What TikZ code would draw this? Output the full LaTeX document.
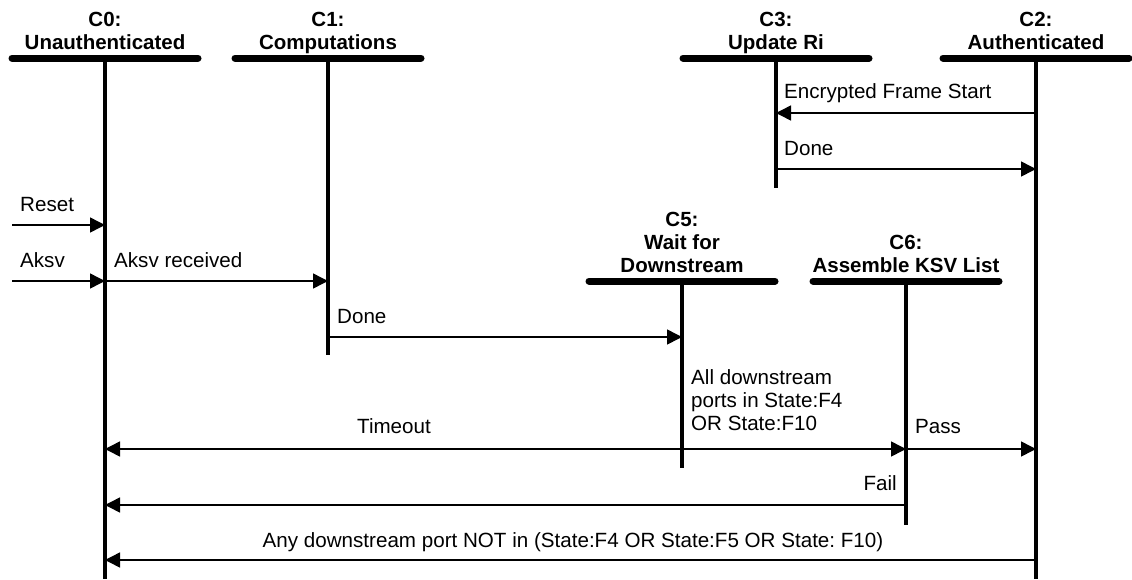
\documentclass[tikz,border=0pt]{standalone}
\usepackage{fontspec}
\setmainfont{Liberation Sans}
\usetikzlibrary{arrows.meta}
\frenchspacing
\begin{document}
\begin{tikzpicture}[x=1pt,y=-1pt,
  bar/.style={line width=7pt, line cap=round},
  life/.style={line width=3.5pt},
  msg/.style={line width=1.5pt, -{Triangle[length=15pt,width=15pt]}},
  dmsg/.style={line width=1.5pt, {Triangle[length=15pt,width=15pt]}-{Triangle[length=15pt,width=15pt]}},
  hdr/.style={anchor=south, inner sep=0pt, text depth=0pt, align=center, font=\fontsize{20.5}{23}\selectfont\bfseries},
  lbl/.style={anchor=base west, inner sep=0pt, font=\fontsize{20.6}{23}\selectfont},
  lblc/.style={anchor=base, inner sep=0pt, font=\fontsize{20.6}{23}\selectfont},
  lble/.style={anchor=base east, inner sep=0pt, font=\fontsize{20.6}{23}\selectfont},
]
\useasboundingbox (0,0) rectangle (1132,579);

% headers
\node[hdr] (h0) at (105,50) {C0:\\Unauthenticated};
\node[hdr] (h1) at (328,50) {C1:\\Computations};
\node[hdr] (h3) at (776,50) {C3:\\Update Ri};
\node[hdr] (h2) at (1036,50) {C2:\\Authenticated};
\node[hdr] (h5) at (682,273) {C5:\\Wait for\\Downstream};
\node[hdr] (h6) at (906,273) {C6:\\Assemble KSV List};

% lifeline tops and ends
\coordinate (c0t) at (105,58);  \coordinate (c0b) at (105,579);
\coordinate (c1t) at (328,58);  \coordinate (c1b) at (328,355);
\coordinate (c3t) at (776,58);  \coordinate (c3b) at (776,188);
\coordinate (c2t) at (1036,58); \coordinate (c2b) at (1036,579);
\coordinate (c5t) at (682,281); \coordinate (c5b) at (682,468);
\coordinate (c6t) at (906,281); \coordinate (c6b) at (906,525);

\foreach \c in {c0,c1,c3,c2,c5,c6}{
  \draw[bar] ([xshift=-93pt]\c t) -- ([xshift=93pt]\c t);
  \draw[life] (\c t) -- (\c b);
}

% external sources
\coordinate (rst) at (12,225);
\coordinate (aks) at (12,281);

% messages
\draw[msg] (rst) -- (rst -| c0t);
\node[lbl] (lrst) at (20,211) {Reset};
\draw[msg] (aks) -- (aks -| c0t);
\node[lbl] (laks) at (20,267) {Aksv};

\draw[msg] (aks -| c0t) -- (aks -| c1t);
\node[lbl] (laksr) at (114,267) {Aksv received};

\coordinate (m3) at (0,113);
\draw[msg] (m3 -| c2t) -- (m3 -| c3t);
\node[lbl] (lefs) at (784,98) {Encrypted Frame Start};

\coordinate (m4) at (0,169);
\draw[msg] (m4 -| c3t) -- (m4 -| c2t);
\node[lbl] (ldone1) at (784,155) {Done};

\coordinate (m5) at (0,337);
\draw[msg] (m5 -| c1t) -- (m5 -| c5t);
\node[lbl] (ldone2) at (337,323) {Done};

\node[anchor=south west, inner sep=0pt, text depth=0pt, align=left, font=\fontsize{20.6}{23}\selectfont] (lall) at (691,431) {All downstream\\ports in State:F4\\OR State:F10};

\coordinate (m6) at (0,449);
\draw[dmsg] (m6 -| c0t) -- (m6 -| c6t);
\node[lblc] (lto) at (394,433) {Timeout};
\draw[msg] (m6 -| c6t) -- (m6 -| c2t);
\node[lbl] (lpass) at (915,433) {Pass};

\coordinate (m7) at (0,505);
\draw[msg] (m7 -| c6t) -- (m7 -| c0t);
\node[lble] (lfail) at (897,490) {Fail};

\coordinate (m8) at (0,560);
\draw[msg] (m8 -| c2t) -- (m8 -| c0t);
\node[lblc] (lany) at (573,547) {Any downstream port NOT in (State:F4 OR State:F5 OR State: F10)};
\end{tikzpicture}
\end{document}
